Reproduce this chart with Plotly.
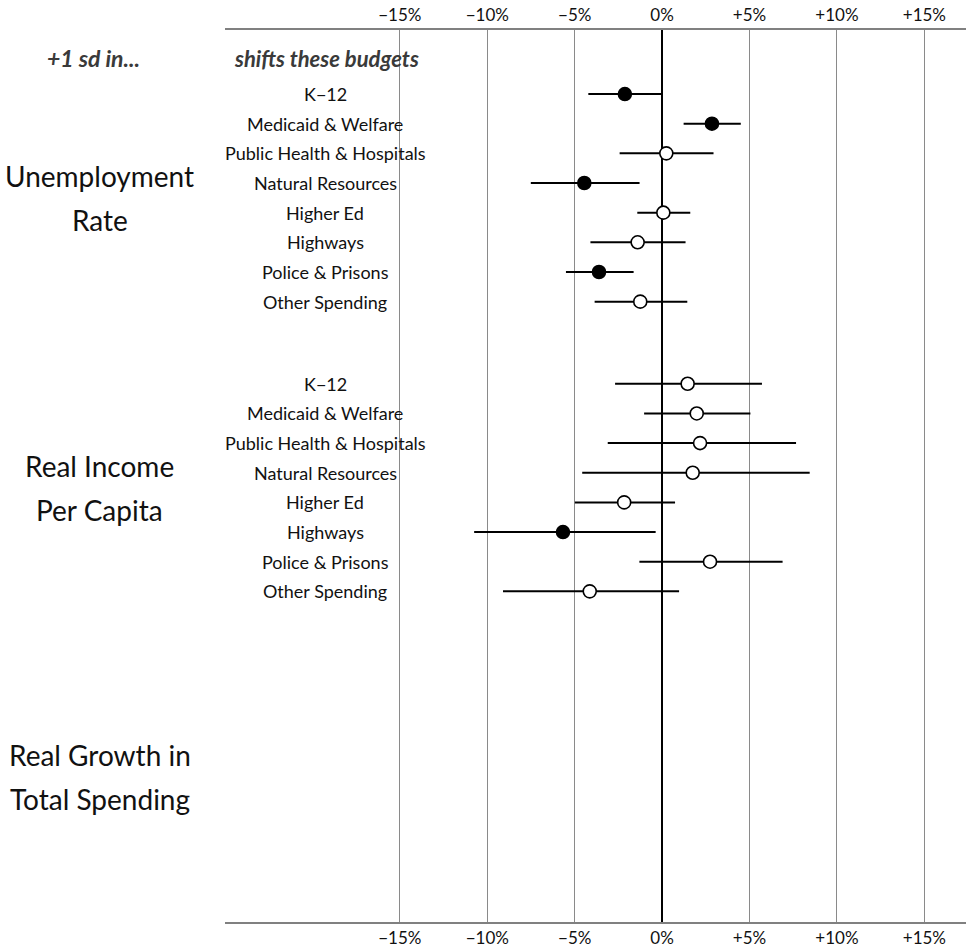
import plotly.graph_objects as go

# ---------------- data ----------------
groups = ["Unemployment<br>Rate", "Real Income<br>Per Capita", "Real Growth in<br>Total Spending"]
categories = ["K\u221212", "Medicaid & Welfare", "Public Health & Hospitals", "Natural Resources",
              "Higher Ed", "Highways", "Police & Prisons", "Other Spending"]

unemp_est = [-2.13, 2.85, 0.24, -4.45, 0.07, -1.40, -3.61, -1.25]
unemp_lo = [-4.22, 1.23, -2.43, -7.51, -1.42, -4.10, -5.50, -3.86]
unemp_hi = [-0.05, 4.50, 2.94, -1.29, 1.61, 1.34, -1.63, 1.44]

income_est = [1.46, 1.98, 2.17, 1.75, -2.17, -5.67, 2.74, -4.14]
income_lo = [-2.69, -1.03, -3.11, -4.57, -4.99, -10.75, -1.30, -9.10]
income_hi = [5.71, 5.05, 7.66, 8.44, 0.74, -0.37, 6.89, 0.97]

tick_vals = [-15, -10, -5, 0, 5, 10, 15]
tick_text = ["\u221215%", "\u221210%", "\u22125%", "0%", "+5%", "+10%", "+15%"]

header_left = "+1 sd in..."
header_right = "shifts these budgets"

# ---------------- layout constants ----------------
FONT = "Lato, 'Open Sans', sans-serif"
GROUP_STEP = 9.77
W, H = 966, 952
L, R, T, B = 225, 0, 30, 29.5
plot_w = W - L - R

def px_to_paper_x(px):
    return (px - L) / plot_w

fig = go.Figure()

series = [(unemp_est, unemp_lo, unemp_hi), (income_est, income_lo, income_hi)]
for g, (est, lo, hi) in enumerate(series):
    ys = [g * GROUP_STEP + i for i in range(len(est))]
    fills = ["black" if (h < 0 or l > 0) else "white" for l, h in zip(lo, hi)]
    fig.add_trace(go.Scatter(
        x=est, y=ys, mode="markers",
        marker=dict(size=13, color=fills, line=dict(color="black", width=1.6)),
        error_x=dict(type="data", symmetric=False,
                     array=[h - e for h, e in zip(hi, est)],
                     arrayminus=[e - l for e, l in zip(est, lo)],
                     color="black", thickness=2, width=0),
        showlegend=False, hoverinfo="skip", cliponaxis=False,
    ))

# invisible trace for top axis
fig.add_trace(go.Scatter(x=[0], y=[0], xaxis="x2", mode="markers",
                         marker=dict(opacity=0), showlegend=False, hoverinfo="skip"))

annotations = []
# category labels
for g in range(2):
    for i, c in enumerate(categories):
        annotations.append(dict(
            x=px_to_paper_x(325), xref="paper", y=g * GROUP_STEP + i, yref="y",
            text=c, showarrow=False, xanchor="center", yanchor="middle",
            font=dict(family=FONT, size=18, color="#111111")))

# group labels (two lines each)
unit_px = (952 - T - B) / (27.92 + 2.16)
for g, lab in enumerate(groups):
    center = g * GROUP_STEP + 3.5
    lines = lab.split("<br>")
    for k, line in enumerate(lines):
        off = (-22 if k == 0 else 22) / unit_px
        annotations.append(dict(
            x=px_to_paper_x(100), xref="paper", y=center + off, yref="y",
            text=line, showarrow=False, xanchor="center", yanchor="middle",
            font=dict(family=FONT, size=28, color="#111111")))

# headers
annotations.append(dict(x=px_to_paper_x(93), xref="paper", y=-1.21, yref="y",
                        text="<b><i>" + header_left + "</i></b>", showarrow=False,
                        xanchor="center", yanchor="middle",
                        font=dict(family=FONT, size=23, color="#3a3a3a")))
annotations.append(dict(x=px_to_paper_x(326), xref="paper", y=-1.21, yref="y",
                        text="<b><i>" + header_right + "</i></b>", showarrow=False,
                        xanchor="center", yanchor="middle",
                        font=dict(family=FONT, size=22, color="#3a3a3a")))

axis_common = dict(
    range=[-25, 17.38], tickvals=tick_vals, ticktext=tick_text,
    showgrid=True, gridcolor="#8a8a8a", gridwidth=1,
    zeroline=True, zerolinecolor="black", zerolinewidth=2,
    showline=True, linecolor="#808080", linewidth=2,
    ticks="", tickfont=dict(family=FONT, size=17, color="#111111"),
    fixedrange=True,
)

fig.update_layout(
    width=W, height=H,
    margin=dict(l=L, r=R, t=T, b=B, pad=0),
    paper_bgcolor="white", plot_bgcolor="white",
    xaxis=dict(side="bottom", **axis_common),
    xaxis2=dict(side="top", overlaying="x", matches="x", **axis_common),
    yaxis=dict(range=[27.92, -2.16], showgrid=False, zeroline=False, showline=False,
               showticklabels=False, ticks="", fixedrange=True),
    annotations=annotations,
)

fig.write_html("out.html")
